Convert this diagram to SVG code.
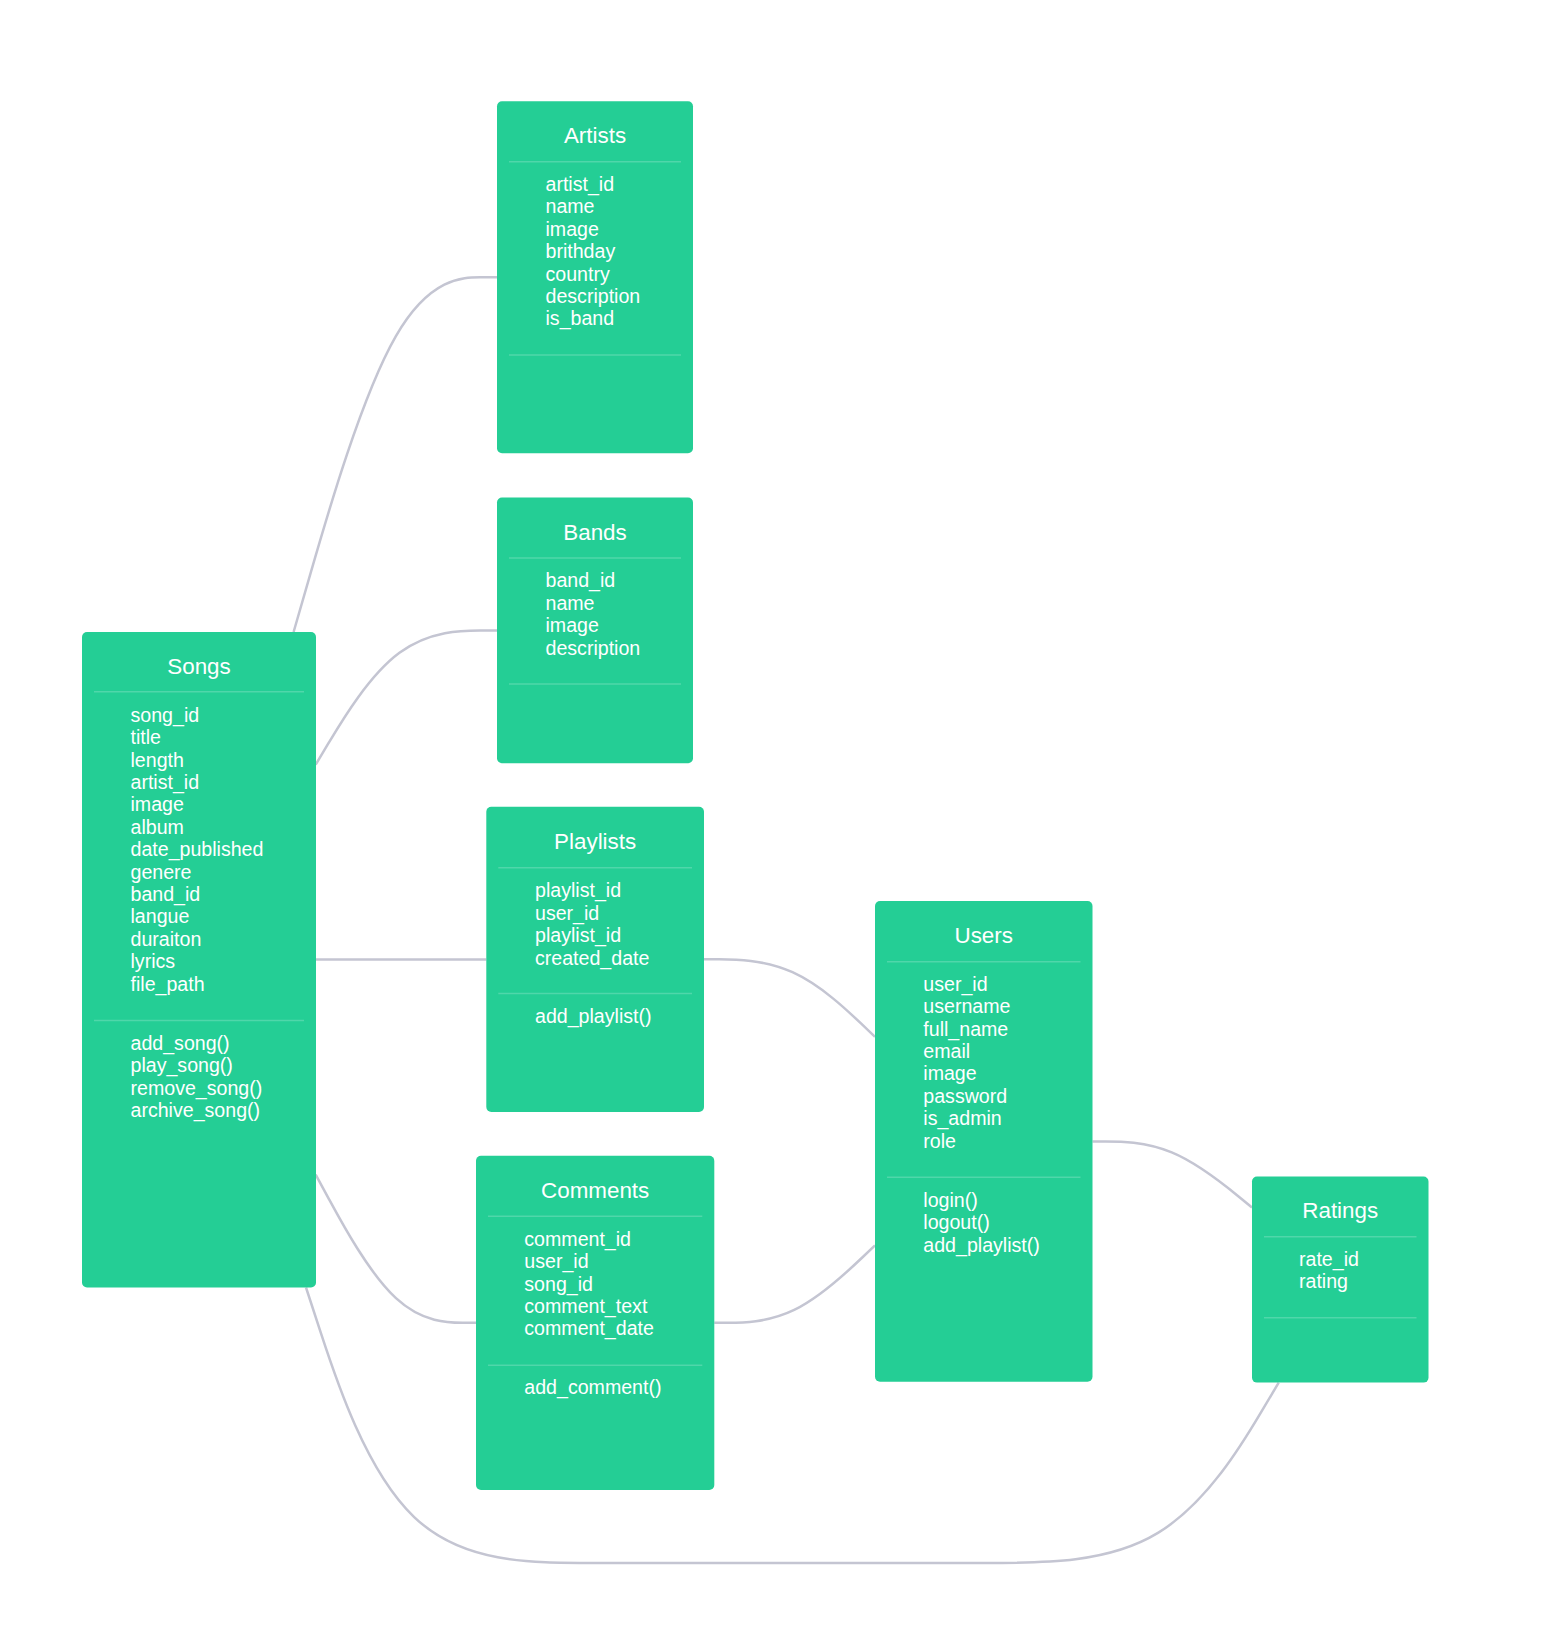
<svg xmlns="http://www.w3.org/2000/svg" width="1559" height="1646" viewBox="0 0 1559 1646">
  <style>
    .box { fill: #24ce95; }
    .sep { stroke: #ffffff; stroke-opacity: 0.2; stroke-width: 1.5; }
    .title { font-family: "Liberation Sans", Arial, sans-serif; font-size: 22.4px; fill: #ffffff; text-anchor: middle; }
    .member { font-family: "Liberation Sans", Arial, sans-serif; font-size: 19.6px; fill: #ffffff; }
    .edge { fill: none; stroke: #c4c5d2; stroke-width: 2.5; }
  </style>
  <rect width="1559" height="1646" fill="#ffffff"/>

  <!-- relationships (drawn under the classes) -->
  <g id="connectors">
    <path class="edge" d="M293.6 632 L310.67 572.88 C327.73 513.77 361.87 395.53 395.77 336.42 C429.67 277.3 463.33 277.3 480.17 277.3 L497 277.3"/>
    <path class="edge" d="M315.7 764.6 L329.08 742.23 C342.47 719.87 369.23 675.13 399.45 652.77 C429.67 630.4 463.33 630.4 480.17 630.4 L497 630.4"/>
    <path class="edge" d="M315.7 959.4 L486.3 959.4"/>
    <path class="edge" d="M704 959.3 L719 959.3 C734 959.3 764 959.3 792.5 972.23 C821 985.17 848 1011.03 861.5 1023.97 L875 1036.9"/>
    <path class="edge" d="M315.7 1174.6 L329.08 1199.31 C342.47 1224.02 369.23 1273.43 395.95 1298.14 C422.67 1322.85 449.33 1322.85 462.67 1322.85 L476 1322.85"/>
    <path class="edge" d="M714.3 1322.85 L727.58 1322.85 C740.87 1322.85 767.43 1322.85 794.22 1309.93 C821 1297 848 1271.15 861.5 1258.23 L875 1245.3"/>
    <path class="edge" d="M1092.5 1141.4 L1105.67 1141.4 C1118.83 1141.4 1145.17 1141.4 1171.75 1152.42 C1198.33 1163.43 1225.17 1185.47 1238.58 1196.48 L1252 1207.5"/>
    <path class="edge" d="M306 1287.5 L321 1333.42 C336 1379.33 366 1471.17 414.17 1517.08 C462.33 1563 528.67 1563 595 1563 C661.33 1563 727.67 1563 792.33 1563 C857 1563 920 1563 982.92 1563 C1045.83 1563 1108.67 1563 1157.95 1532.93 C1207.23 1502.87 1242.97 1442.73 1260.83 1412.67 L1278.7 1382.6"/>
  </g>

  <!-- Songs -->
  <g id="songs">
    <rect class="box" x="82" y="632" width="234" height="655.5" rx="5"/>
    <text class="title" x="199" y="674">Songs</text>
    <line class="sep" x1="94" y1="691.7" x2="304" y2="691.7"/>
    <text class="member" x="130.5" y="721.7">song_id</text>
    <text class="member" x="130.5" y="744.1">title</text>
    <text class="member" x="130.5" y="766.5">length</text>
    <text class="member" x="130.5" y="788.9">artist_id</text>
    <text class="member" x="130.5" y="811.3">image</text>
    <text class="member" x="130.5" y="833.7">album</text>
    <text class="member" x="130.5" y="856.1">date_published</text>
    <text class="member" x="130.5" y="878.5">genere</text>
    <text class="member" x="130.5" y="900.9">band_id</text>
    <text class="member" x="130.5" y="923.3">langue</text>
    <text class="member" x="130.5" y="945.7">duraiton</text>
    <text class="member" x="130.5" y="968.1">lyrics</text>
    <text class="member" x="130.5" y="990.5">file_path</text>
    <line class="sep" x1="94" y1="1020.6" x2="304" y2="1020.6"/>
    <text class="member" x="130.5" y="1050">add_song()</text>
    <text class="member" x="130.5" y="1072.4">play_song()</text>
    <text class="member" x="130.5" y="1094.8">remove_song()</text>
    <text class="member" x="130.5" y="1117.2">archive_song()</text>
  </g>

  <!-- Artists -->
  <g id="artists">
    <rect class="box" x="497" y="101.3" width="196" height="352" rx="5"/>
    <text class="title" x="595" y="143">Artists</text>
    <line class="sep" x1="509" y1="161.7" x2="681" y2="161.7"/>
    <text class="member" x="545.5" y="190.9">artist_id</text>
    <text class="member" x="545.5" y="213.3">name</text>
    <text class="member" x="545.5" y="235.7">image</text>
    <text class="member" x="545.5" y="258.1">brithday</text>
    <text class="member" x="545.5" y="280.5">country</text>
    <text class="member" x="545.5" y="302.9">description</text>
    <text class="member" x="545.5" y="325.3">is_band</text>
    <line class="sep" x1="509" y1="355" x2="681" y2="355"/>
  </g>

  <!-- Bands -->
  <g id="bands">
    <rect class="box" x="497" y="497.6" width="196" height="265.6" rx="5"/>
    <text class="title" x="595" y="539.6">Bands</text>
    <line class="sep" x1="509" y1="558.1" x2="681" y2="558.1"/>
    <text class="member" x="545.5" y="587.3">band_id</text>
    <text class="member" x="545.5" y="609.7">name</text>
    <text class="member" x="545.5" y="632.1">image</text>
    <text class="member" x="545.5" y="654.5">description</text>
    <line class="sep" x1="509" y1="684" x2="681" y2="684"/>
  </g>

  <!-- Playlists -->
  <g id="playlists">
    <rect class="box" x="486.3" y="806.7" width="217.7" height="305.3" rx="5"/>
    <text class="title" x="595.15" y="849.3">Playlists</text>
    <line class="sep" x1="498.3" y1="867.7" x2="692" y2="867.7"/>
    <text class="member" x="535" y="897.3">playlist_id</text>
    <text class="member" x="535" y="919.7">user_id</text>
    <text class="member" x="535" y="942.1">playlist_id</text>
    <text class="member" x="535" y="964.5">created_date</text>
    <line class="sep" x1="498.3" y1="993.5" x2="692" y2="993.5"/>
    <text class="member" x="535" y="1022.7">add_playlist()</text>
  </g>

  <!-- Comments -->
  <g id="comments">
    <rect class="box" x="476" y="1155.7" width="238.3" height="334.3" rx="5"/>
    <text class="title" x="595.15" y="1198.3">Comments</text>
    <line class="sep" x1="488" y1="1216.3" x2="702.3" y2="1216.3"/>
    <text class="member" x="524.3" y="1245.7">comment_id</text>
    <text class="member" x="524.3" y="1268.1">user_id</text>
    <text class="member" x="524.3" y="1290.5">song_id</text>
    <text class="member" x="524.3" y="1312.9">comment_text</text>
    <text class="member" x="524.3" y="1335.3">comment_date</text>
    <line class="sep" x1="488" y1="1365.3" x2="702.3" y2="1365.3"/>
    <text class="member" x="524.3" y="1394.3">add_comment()</text>
  </g>

  <!-- Users -->
  <g id="users">
    <rect class="box" x="875" y="901" width="217.5" height="480.7" rx="5"/>
    <text class="title" x="983.75" y="942.7">Users</text>
    <line class="sep" x1="887" y1="961.7" x2="1080.5" y2="961.7"/>
    <text class="member" x="923.3" y="990.7">user_id</text>
    <text class="member" x="923.3" y="1013.1">username</text>
    <text class="member" x="923.3" y="1035.5">full_name</text>
    <text class="member" x="923.3" y="1057.9">email</text>
    <text class="member" x="923.3" y="1080.3">image</text>
    <text class="member" x="923.3" y="1102.7">password</text>
    <text class="member" x="923.3" y="1125.1">is_admin</text>
    <text class="member" x="923.3" y="1147.5">role</text>
    <line class="sep" x1="887" y1="1177.3" x2="1080.5" y2="1177.3"/>
    <text class="member" x="923.3" y="1206.7">login()</text>
    <text class="member" x="923.3" y="1229.1">logout()</text>
    <text class="member" x="923.3" y="1251.5">add_playlist()</text>
  </g>

  <!-- Ratings -->
  <g id="ratings">
    <rect class="box" x="1252" y="1176.5" width="176.5" height="206.1" rx="5"/>
    <text class="title" x="1340.25" y="1218.3">Ratings</text>
    <line class="sep" x1="1264" y1="1236.7" x2="1416.5" y2="1236.7"/>
    <text class="member" x="1299" y="1266">rate_id</text>
    <text class="member" x="1299" y="1288.4">rating</text>
    <line class="sep" x1="1264" y1="1317.7" x2="1416.5" y2="1317.7"/>
  </g>
</svg>
